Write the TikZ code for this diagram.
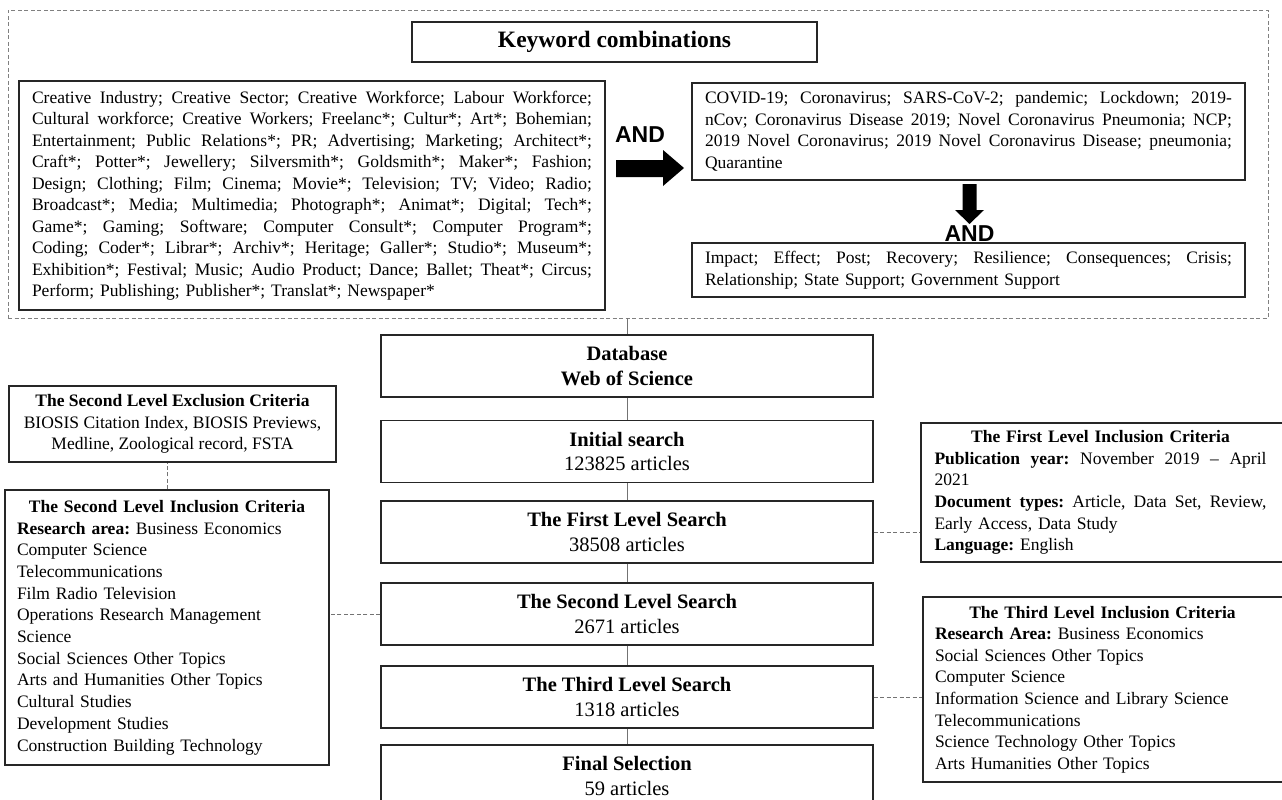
\documentclass[tikz,border=0pt]{standalone}
\usepackage{fontspec}
\setmainfont{Liberation Serif}
\newfontfamily\andfont{Liberation Sans}
\newcommand\jl[2]{\leavevmode\hbox to #1{\spaceskip=0.25em plus 1fil minus 0.1em\relax #2}}
\begin{document}
\frenchspacing
\begin{tikzpicture}[x=1pt,y=-1pt,
  box/.style={draw=black!85, line width=1.2pt, inner sep=0pt},
  midbox/.style={box, minimum width=492pt, minimum height=62pt, align=center, font=\fontsize{20.5}{24.5}\selectfont},
  txt/.style={font=\fontsize{17.5}{21.5}\selectfont},
  conn/.style={draw=black!55, line width=0.9pt},
  dconn/.style={draw=black!55, line width=0.9pt, dash pattern=on 4pt off 2.5pt},
  andlbl/.style={font=\andfont\bfseries\fontsize{23}{25}\selectfont, inner sep=0pt}
]
\useasboundingbox (0,0) rectangle (1282,800);
\clip (0,0) rectangle (1282,800);
\fill[white] (0,0) rectangle (1282,800);

% outer dashed frame
\node[draw=black!50, line width=0.9pt, dash pattern=on 4pt off 2.5pt, minimum width=1260pt, minimum height=308pt, inner sep=0pt] (outer) at (638,164) {};

\node[box, minimum width=405pt, minimum height=40pt, font=\bfseries\fontsize{23.5}{25}\selectfont] (kw) at (614.5,42) {Keyword combinations};

\node[box, txt, minimum width=586pt, minimum height=229pt, text width=560pt, align=left] (creative) at (312,195.5) {%
\jl{560pt}{Creative Industry; Creative Sector; Creative Workforce; Labour Workforce;}\\
\jl{560pt}{Cultural workforce; Creative Workers; Freelanc*; Cultur*; Art*; Bohemian;}\\
\jl{560pt}{Entertainment; Public Relations*; PR; Advertising; Marketing; Architect*;}\\
\jl{560pt}{Craft*; Potter*; Jewellery; Silversmith*; Goldsmith*; Maker*; Fashion;}\\
\jl{560pt}{Design; Clothing; Film; Cinema; Movie*; Television; TV; Video; Radio;}\\
\jl{560pt}{Broadcast*; Media; Multimedia; Photograph*; Animat*; Digital; Tech*;}\\
\jl{560pt}{Game*; Gaming; Software; Computer Consult*; Computer Program*;}\\
\jl{560pt}{Coding; Coder*; Librar*; Archiv*; Heritage; Galler*; Studio*; Museum*;}\\
\jl{560pt}{Exhibition*; Festival; Music; Audio Product; Dance; Ballet; Theat*; Circus;}\\
Perform; Publishing; Publisher*; Translat*; Newspaper*};

\node[box, txt, minimum width=553pt, minimum height=97pt, text width=527pt, align=left] (covid) at (968.5,131.5) {%
\jl{527pt}{COVID-19; Coronavirus; SARS-CoV-2; pandemic; Lockdown; 2019-}\\
\jl{527pt}{nCov; Coronavirus Disease 2019; Novel Coronavirus Pneumonia; NCP;}\\
\jl{527pt}{2019 Novel Coronavirus; 2019 Novel Coronavirus Disease; pneumonia;}\\
Quarantine};

\node[box, txt, minimum width=553pt, minimum height=54pt, text width=527pt, align=left] (impact) at (968.5,270) {%
\jl{527pt}{Impact; Effect; Post; Recovery; Resilience; Consequences; Crisis;}\\
Relationship; State Support; Government Support};

% block arrows
\fill[black] (616,160) -- (663,160) -- (663,150) -- (684,168) -- (663,186) -- (663,177) -- (616,177) -- cycle;
\node[andlbl] (and1) at (640,135) {AND};
\fill[black] (962.5,184) -- (976.5,184) -- (976.5,210) -- (984,210) -- (969.5,224) -- (955,210) -- (962.5,210) -- cycle;
\node[andlbl] (and2) at (969.5,234) {AND};

% middle column
\node[midbox] (db) at (627,366) {\bfseries Database\\\bfseries Web of Science};
\node[midbox] (init) at (627,451.5) {{\bfseries Initial search}\\123825 articles};
\node[midbox] (first) at (627,532) {{\bfseries The First Level Search}\\38508 articles};
\node[midbox] (second) at (627,614) {{\bfseries The Second Level Search}\\2671 articles};
\node[midbox] (third) at (627,697) {{\bfseries The Third Level Search}\\1318 articles};
\node[midbox] (final) at (627,776) {{\bfseries Final Selection}\\59 articles};

\draw[conn] (db.north |- outer.south) -- (db.north);
\draw[conn] (db) -- (init);
\draw[conn] (init) -- (first);
\draw[conn] (first) -- (second);
\draw[conn] (second) -- (third);
\draw[conn] (third) -- (final);

% left column
\node[box, txt, minimum width=327pt, minimum height=76pt, align=center] (excl) at (172.5,424) {%
{\bfseries The Second Level Exclusion Criteria}\\
BIOSIS Citation Index, BIOSIS Previews,\\
Medline, Zoological record, FSTA};

\node[box, txt, minimum width=324pt, minimum height=275pt, text width=300pt, align=left, font=\fontsize{17.5}{21.7}\selectfont] (incl2) at (167,627.5) {%
\makebox[300pt][c]{\bfseries The Second Level Inclusion Criteria}\\
\textbf{Research area:} Business Economics\\
Computer Science\\
Telecommunications\\
Film Radio Television\\
Operations Research Management\\
Science\\
Social Sciences Other Topics\\
Arts and Humanities Other Topics\\
Cultural Studies\\
Development Studies\\
Construction Building Technology};

\draw[dconn] (incl2.north) -- (incl2.north |- excl.south);
\draw[dconn] (second.west) -- (second.west -| incl2.east);

% right column
\node[box, txt, minimum width=369pt, minimum height=139pt, text width=342pt, align=left, font=\fontsize{17.5}{21.6}\selectfont] (incl1) at (1105.5,492.5) {%
\makebox[332pt][c]{\bfseries The First Level Inclusion Criteria}\\
\jl{332pt}{\textbf{Publication year:} November 2019 \textendash{} April}\\
2021\\
\jl{332pt}{\textbf{Document types:} Article, Data Set, Review,}\\
Early Access, Data Study\\
\textbf{Language:} English};

\node[box, txt, minimum width=367pt, minimum height=185pt, text width=343pt, align=left, font=\fontsize{17.5}{21.6}\selectfont] (incl3) at (1106.5,689.5) {%
\makebox[335pt][c]{\bfseries The Third Level Inclusion Criteria}\\
\textbf{Research Area:} Business Economics\\
Social Sciences Other Topics\\
Computer Science\\
Information Science and Library Science\\
Telecommunications\\
Science Technology Other Topics\\
Arts Humanities Other Topics};

\draw[dconn] (first.east) -- (first.east -| incl1.west);
\draw[dconn] (third.east) -- (third.east -| incl3.west);
\end{tikzpicture}
\end{document}
